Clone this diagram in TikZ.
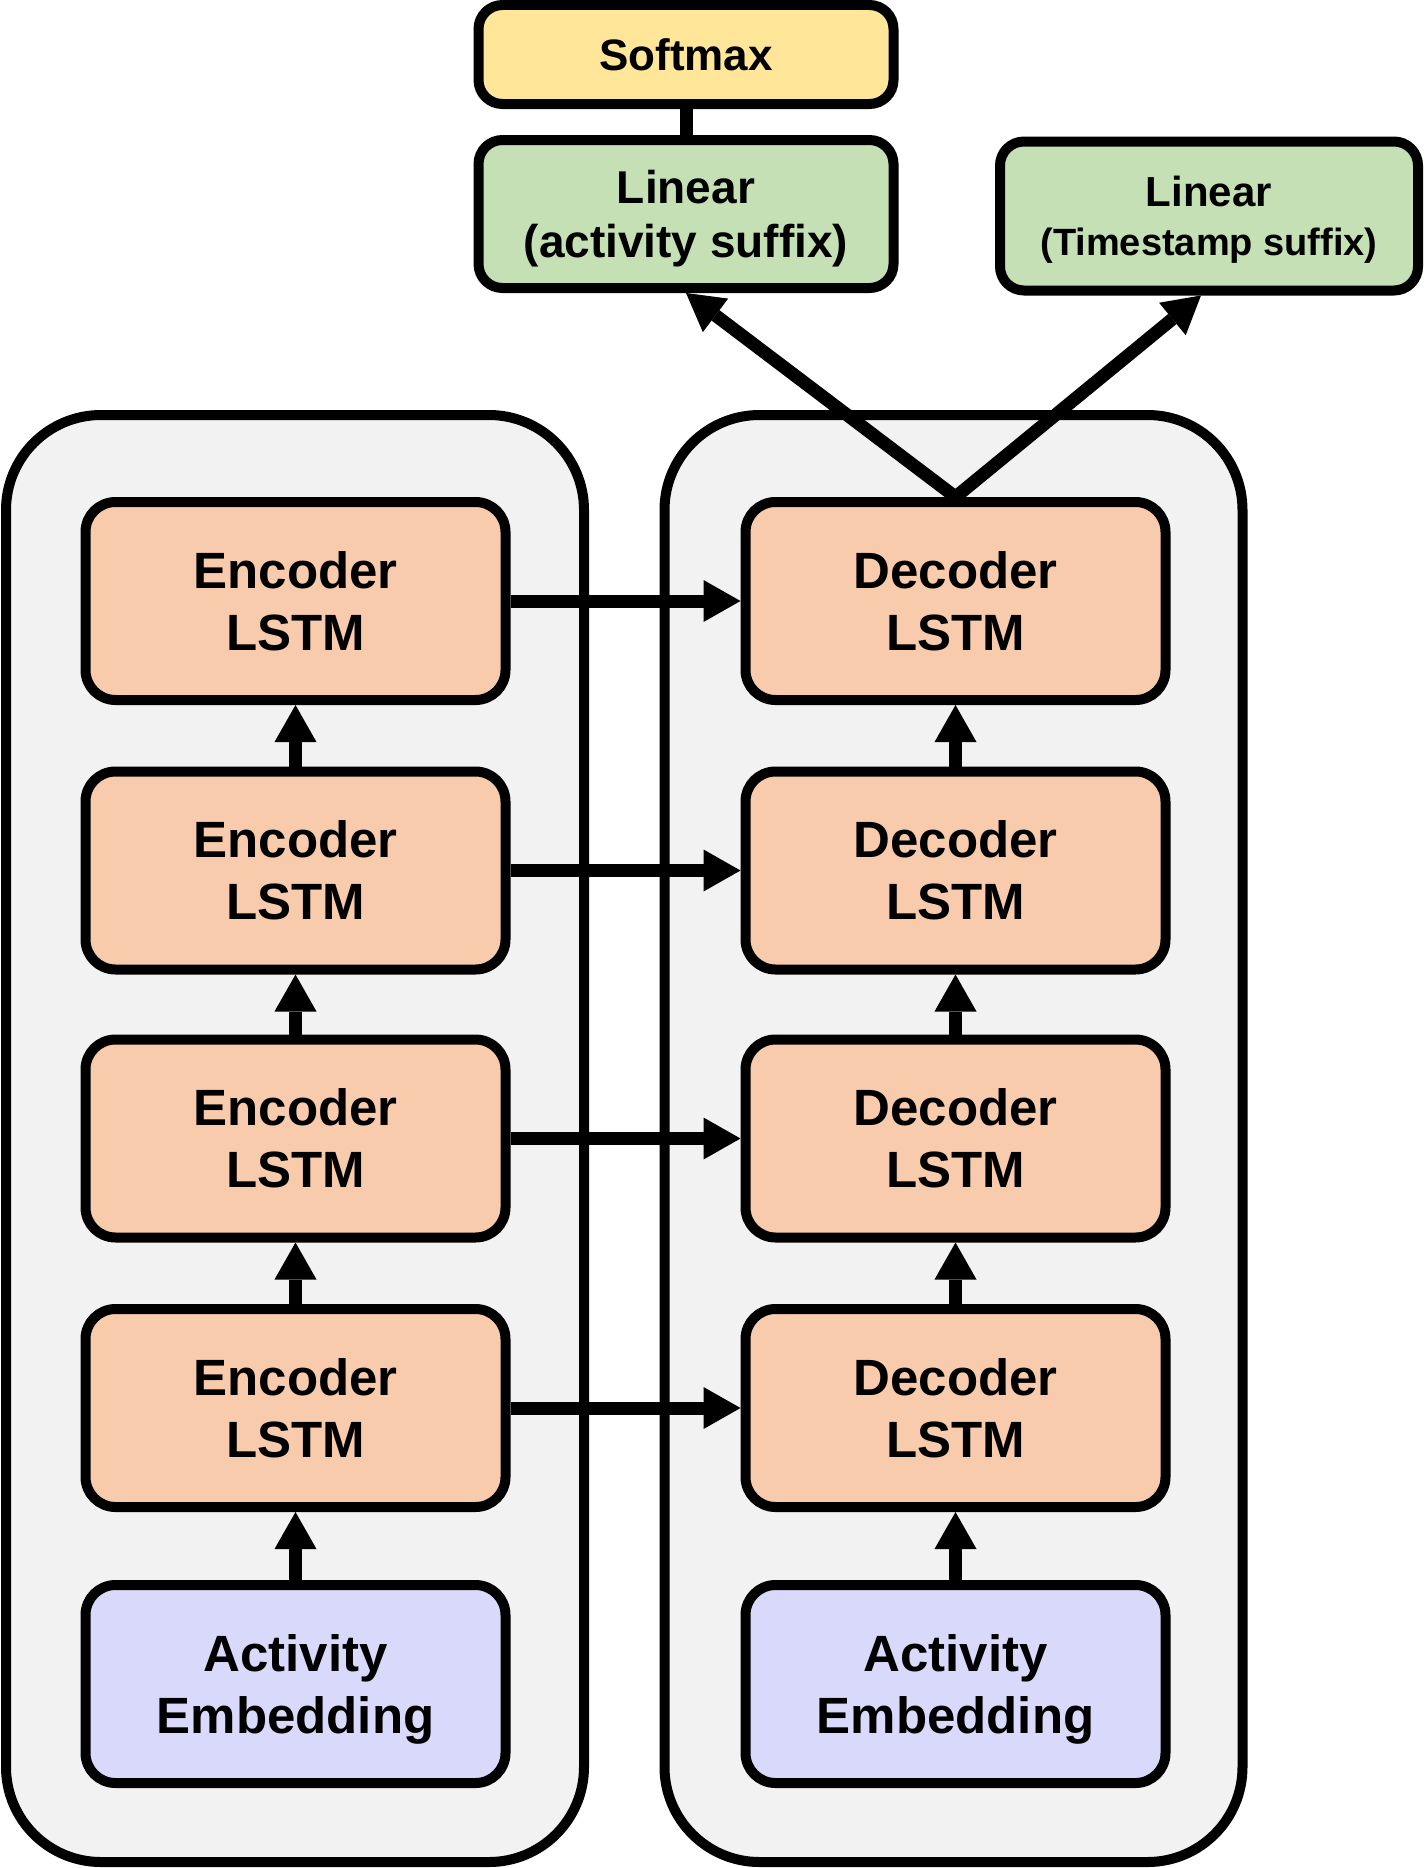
\documentclass[tikz,border=0pt]{standalone}
\usepackage{fontspec}
\setmainfont{Liberation Sans}
\usetikzlibrary{arrows.meta}
\definecolor{cont}{HTML}{F2F2F2}
\definecolor{lstm}{HTML}{F8CBAD}
\definecolor{emb}{HTML}{D9D9FC}
\definecolor{lin}{HTML}{C5E0B4}
\definecolor{soft}{HTML}{FFE699}
\begin{document}
\begin{tikzpicture}[x=1pt,y=-1pt,
  grp/.style={draw=black, fill=cont, line width=10pt, rounded corners=95pt,
    minimum width=578pt, minimum height=1447pt, inner sep=0pt},
  blk/.style={draw=black, line width=10pt, rounded corners=30pt,
    minimum width=420pt, minimum height=198pt, inner sep=0pt, align=center,
    text depth=0pt, font=\bfseries\fontsize{51}{62}\selectfont},
  lstmbox/.style={blk, fill=lstm},
  embbox/.style={blk, fill=emb},
  topbox/.style={draw=black, line width=10pt, rounded corners=24pt,
    inner sep=0pt, align=center, text depth=0pt, font=\bfseries},
  conn/.style={line width=13pt, -{Triangle[length=37pt,width=42pt,line width=0pt]}},
  bothconn/.style={line width=13pt, miter limit=10,
    {Triangle[length=37pt,width=42pt,line width=0pt]}-{Triangle[length=37pt,width=42pt,line width=0pt]}},
  plain/.style={line width=13pt}]
\fill[white] (0,0) rectangle (1424,1868);
\useasboundingbox (0,0) rectangle (1424,1868);

% containers
\node[grp] (encgrp) at (295,1138.5) {};
\node[grp] (decgrp) at (953.5,1138.5) {};

% top boxes
\node[topbox, fill=soft, minimum width=415pt, minimum height=99pt,
  font=\bfseries\fontsize{44}{50}\selectfont] (sm) at (686,54.5) {Softmax};
\node[topbox, fill=lin, minimum width=415pt, minimum height=148pt,
  font=\bfseries\fontsize{46}{54}\selectfont] (lin1) at (686,214) {Linear\\(activity suffix)};
\node[topbox, fill=lin, minimum width=418pt, minimum height=149pt,
  font=\bfseries\fontsize{42}{49}\selectfont] (lin2) at (1209,216)
  {Linear\\\fontsize{38}{49}\selectfont (Timestamp suffix)};

% encoder column
\node[lstmbox] (enc1) at (295.5,601) {Encoder\\LSTM};
\node[lstmbox] (enc2) at (295.5,870.5) {Encoder\\LSTM};
\node[lstmbox] (enc3) at (295.5,1138.5) {Encoder\\LSTM};
\node[lstmbox] (enc4) at (295.5,1408) {Encoder\\LSTM};
\node[embbox] (emb1) at (295.5,1684) {Activity\\Embedding};

% decoder column
\node[lstmbox] (dec1) at (955.5,601) {Decoder\\LSTM};
\node[lstmbox] (dec2) at (955.5,870.5) {Decoder\\LSTM};
\node[lstmbox] (dec3) at (955.5,1138.5) {Decoder\\LSTM};
\node[lstmbox] (dec4) at (955.5,1408) {Decoder\\LSTM};
\node[embbox] (emb2) at (955.5,1684) {Activity\\Embedding};

% vertical arrows
\draw[conn] (emb1.north) -- (enc4.south);
\draw[conn] (enc4.north) -- (enc3.south);
\draw[conn] (enc3.north) -- (enc2.south);
\draw[conn] (enc2.north) -- (enc1.south);
\draw[conn] (emb2.north) -- (dec4.south);
\draw[conn] (dec4.north) -- (dec3.south);
\draw[conn] (dec3.north) -- (dec2.south);
\draw[conn] (dec2.north) -- (dec1.south);

% horizontal arrows
\draw[conn] (enc1.east) -- (dec1.west);
\draw[conn] (enc2.east) -- (dec2.west);
\draw[conn] (enc3.east) -- (dec3.west);
\draw[conn] (enc4.east) -- (dec4.west);

% outputs
\draw[bothconn] (lin1.south) -- (dec1.north) -- ([xshift=-8pt]lin2.south);
\draw[plain] (sm.south) -- (lin1.north);
\end{tikzpicture}
\end{document}
